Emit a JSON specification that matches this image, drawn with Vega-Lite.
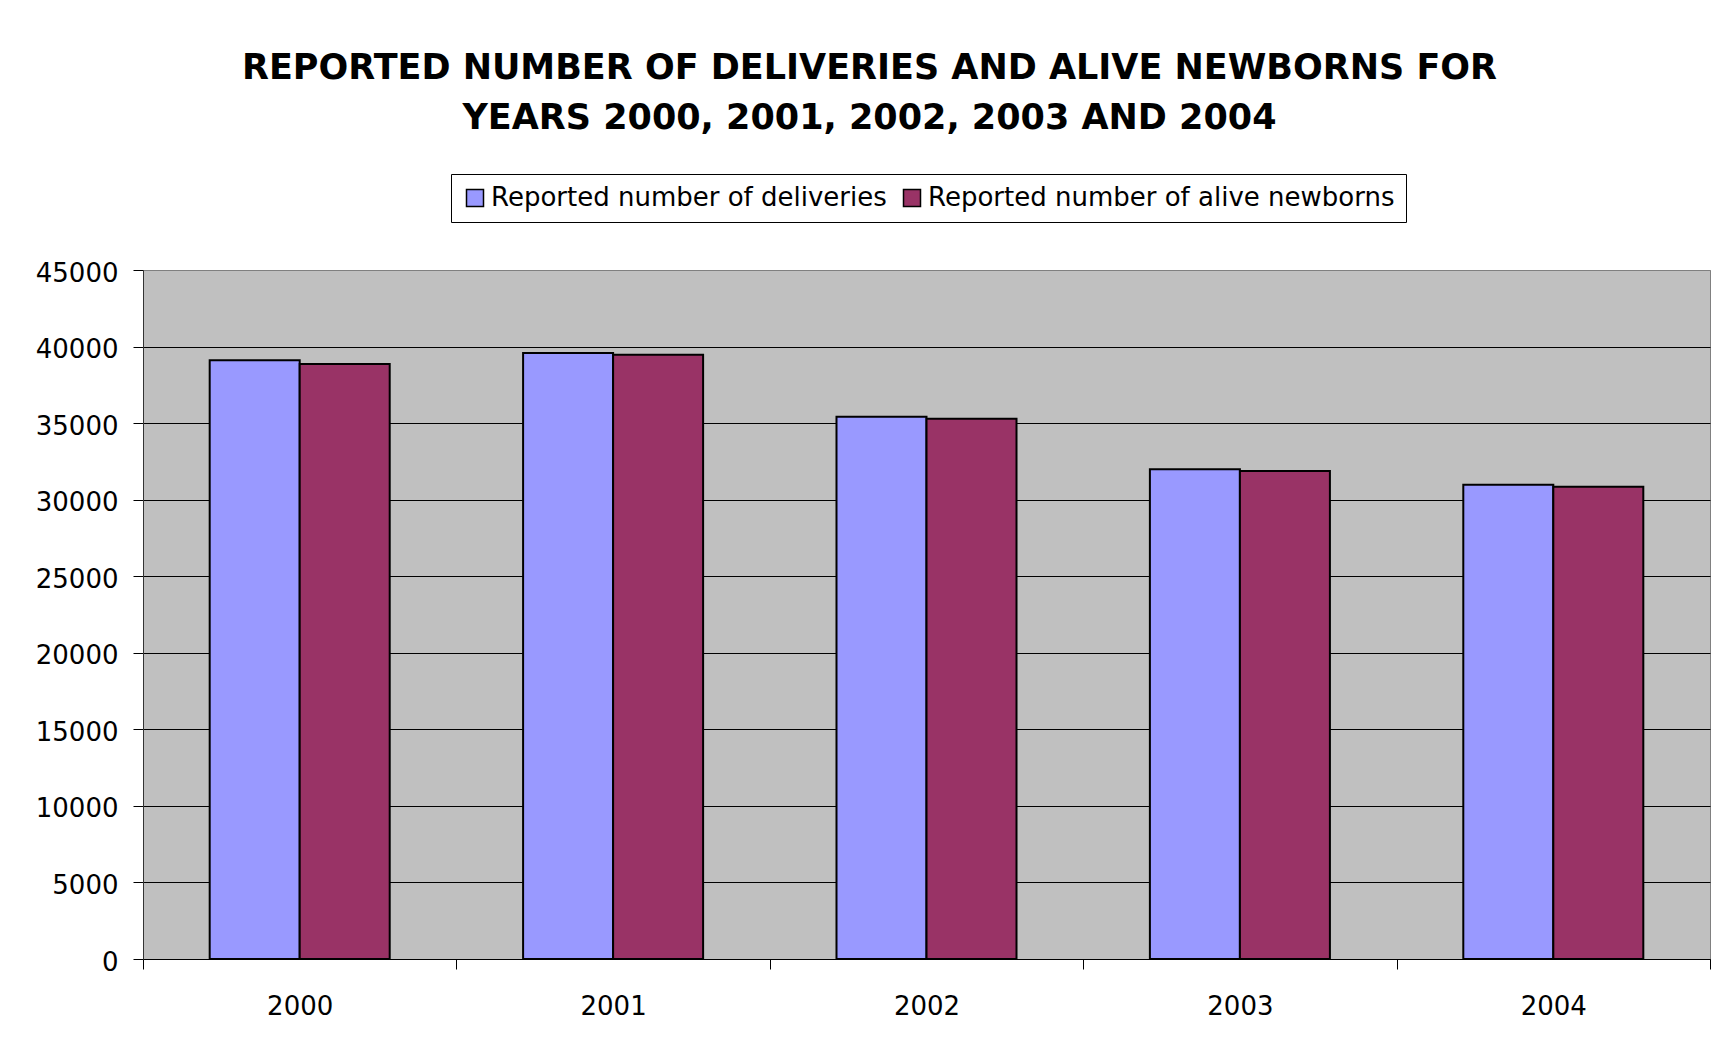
{
  "$schema": "https://vega.github.io/schema/vega-lite/v6.json",
  "width": 1567,
  "height": 689,
  "autosize": {"type": "none"},
  "padding": {"left": 143, "top": 270, "right": 14, "bottom": 81},
  "background": "white",
  "title": {
    "text": ["REPORTED NUMBER OF DELIVERIES AND ALIVE NEWBORNS FOR", "YEARS 2000, 2001, 2002, 2003 AND 2004"],
    "font": "DejaVu Sans",
    "fontSize": 35,
    "fontWeight": "bold",
    "color": "black",
    "anchor": "middle",
    "frame": "group",
    "dx": -57,
    "lineHeight": 50,
    "offset": 38
  },
  "data": {
    "values": [
      {"year": "2000", "series": "Reported number of deliveries", "count": 39100},
      {"year": "2000", "series": "Reported number of alive newborns", "count": 38860},
      {"year": "2001", "series": "Reported number of deliveries", "count": 39580},
      {"year": "2001", "series": "Reported number of alive newborns", "count": 39470},
      {"year": "2002", "series": "Reported number of deliveries", "count": 35410},
      {"year": "2002", "series": "Reported number of alive newborns", "count": 35280},
      {"year": "2003", "series": "Reported number of deliveries", "count": 31980},
      {"year": "2003", "series": "Reported number of alive newborns", "count": 31870},
      {"year": "2004", "series": "Reported number of deliveries", "count": 30970},
      {"year": "2004", "series": "Reported number of alive newborns", "count": 30840}
    ]
  },
  "mark": {"type": "bar", "stroke": "black", "strokeWidth": 2},
  "encoding": {
    "x": {
      "field": "year",
      "type": "nominal",
      "scale": {"paddingInner": 0, "paddingOuter": 0},
      "axis": {
        "title": null,
        "labelAngle": 0,
        "labelFont": "DejaVu Sans",
        "labelFontSize": 26,
        "labelColor": "black",
        "labelPadding": 24,
        "tickSize": 10,
        "tickColor": "black",
        "tickBand": "extent",
        "domainColor": "black",
        "grid": false
      }
    },
    "xOffset": {
      "field": "series",
      "type": "nominal",
      "sort": ["Reported number of deliveries", "Reported number of alive newborns"],
      "scale": {"paddingInner": 0, "paddingOuter": 0.741}
    },
    "y": {
      "field": "count",
      "type": "quantitative",
      "scale": {"domain": [0, 45000], "nice": false},
      "axis": {
        "title": null,
        "values": [0, 5000, 10000, 15000, 20000, 25000, 30000, 35000, 40000, 45000],
        "format": "d",
        "labelFont": "DejaVu Sans",
        "labelFontSize": 26,
        "labelColor": "black",
        "labelPadding": 15,
        "labelOffset": 3,
        "tickSize": 10,
        "tickColor": "black",
        "domainColor": "#333333",
        "grid": true,
        "gridColor": {"condition": {"test": "datum.value === 45000", "value": "#808080"}, "value": "black"},
        "gridOpacity": 1
      }
    },
    "color": {
      "field": "series",
      "type": "nominal",
      "sort": ["Reported number of deliveries", "Reported number of alive newborns"],
      "scale": {
        "domain": ["Reported number of deliveries", "Reported number of alive newborns"],
        "range": ["#9999FF", "#993366"]
      },
      "legend": {
        "orient": "none",
        "legendX": 308,
        "legendY": -96,
        "direction": "horizontal",
        "title": null,
        "fillColor": "white",
        "strokeColor": "black",
        "padding": 11,
        "symbolType": "square",
        "symbolSize": 289,
        "symbolStrokeColor": "black",
        "symbolStrokeWidth": 1.5,
        "symbolOpacity": 1,
        "labelFont": "DejaVu Sans",
        "labelFontSize": 26,
        "labelColor": "black",
        "labelLimit": 0,
        "columnPadding": 12,
        "labelOffset": 3
      }
    }
  },
  "config": {
    "view": {"fill": "#C0C0C0", "stroke": "#808080", "strokeWidth": 1}
  }
}
